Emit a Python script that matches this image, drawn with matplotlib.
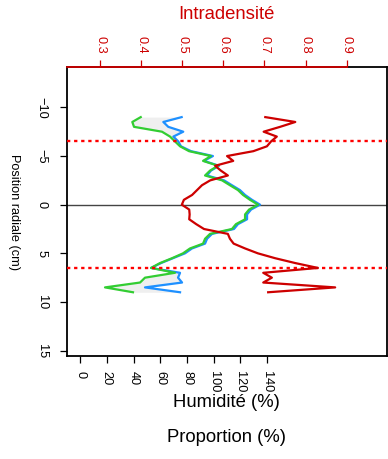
import numpy as np
import matplotlib
matplotlib.use("Agg")
import matplotlib.pyplot as plt

plt.rcParams["font.family"] = ["Liberation Sans", "DejaVu Sans"]

# radial positions (cm), every 0.5 cm from -9 to 9
position = np.arange(-9, 9.01, 0.5)

humidite = [45.4, 39.1, 40.4, 61.3, 67.3, 71.0, 74.8, 81.5, 97.9, 92.0,
            103.2, 97.2, 93.5, 106.2, 112.1, 118.1, 121.9, 127.1, 133.1,
            126.4, 123.4, 123.4, 116.6, 113.6, 97.2, 93.5, 92.0, 82.2,
            77.0, 68.8, 59.8, 53.1, 71.0, 48.6, 44.9, 18.7, 39.6]

proportion = [76.0, 62.3, 66.0, 77.2, 69.8, 73.5, 75.5, 83.0, 99.4, 92.7,
              103.9, 97.9, 95.0, 107.7, 113.6, 119.6, 123.4, 128.6, 134.6,
              127.9, 124.9, 124.9, 118.1, 115.1, 98.7, 95.0, 93.5, 83.7,
              78.5, 69.5, 60.6, 53.1, 74.8, 73.3, 76.3, 48.6, 74.8]

intradensite = [0.702, 0.775, 0.738, 0.698, 0.730, 0.716, 0.706, 0.673,
                0.609, 0.624, 0.580, 0.594, 0.611, 0.568, 0.548, 0.536,
                0.524, 0.504, 0.499, 0.517, 0.518, 0.517, 0.534, 0.553,
                0.611, 0.616, 0.625, 0.653, 0.684, 0.726, 0.775, 0.830,
                0.697, 0.718, 0.697, 0.872, 0.709]

limites = [-6.55, 6.55]

bottom_ticks = np.arange(0, 141, 20)
top_ticks = [0.3, 0.4, 0.5, 0.6, 0.7, 0.8, 0.9]
y_ticks = [-10, -5, 0, 5, 10, 15]

fig = plt.figure(figsize=(3.88, 4.59), dpi=100)
ax = fig.add_axes([0.1727, 0.2244, 0.8239, 0.629])

ax.fill_betweenx(position, humidite, proportion, color="#efefef", lw=0, zorder=1)
ax.plot(proportion, position, color="#1e90ff", lw=1.6, zorder=2)
ax.plot(humidite, position, color="#32cd32", lw=1.6, zorder=3)
ax.axhline(0, color="#444444", lw=1.0, zorder=1.5)
for lim in limites:
    ax.axhline(lim, color="red", lw=1.7, linestyle=(0, (1.4, 1.6)), zorder=4)

ax.set_xlim(-9.72, 229.3)
ax.set_ylim(15.55, -14.12)
ax.set_xticks(bottom_ticks)
ax.set_yticks(y_ticks)
ax.set_yticklabels(["\u221210", "\u22125", "0", "5", "10", "15"])
for lbl in ax.get_xticklabels():
    lbl.set_rotation(-90)
for lbl in ax.get_yticklabels():
    lbl.set_rotation(-90)
    lbl.set_va("center")
ax.tick_params(direction="out", length=5, width=0.9, labelsize=9.2)
ax.tick_params(axis="x", pad=6)
ax.tick_params(axis="y", pad=9)
for s in ax.spines.values():
    s.set_linewidth(1.3)

ax.set_ylabel("Position radiale (cm)", fontsize=9.2, rotation=-90, va="center")
ax.yaxis.set_label_coords(-0.165, 0.5)
ax.set_xlabel("Humidité (%)", fontsize=13.3, labelpad=1)
fig.text(0.585, 1 - 437 / 459, "Proportion (%)", fontsize=13.3,
         ha="center", va="center")

# top axis: intradensity
ax2 = ax.twiny()
ax2.plot(intradensite, position, color="#cd0000", lw=1.6, zorder=5)
ax2.set_xlim(0.2197, 0.9973)
ax2.set_xticks(top_ticks)
for lbl in ax2.get_xticklabels():
    lbl.set_rotation(-90)
ax2.tick_params(axis="x", colors="#cd0000", direction="out", length=5,
                width=0.9, labelsize=9.2, pad=5)
for side in ["left", "right", "bottom"]:
    ax2.spines[side].set_visible(False)
ax2.spines["top"].set_color("#cd0000")
ax2.spines["top"].set_linewidth(1.3)
ax2.spines["top"].set_bounds(0.2197, 0.9)
ax2.set_xlabel("Intradensité", color="#cd0000", fontsize=13.3, labelpad=12)

fig.savefig("out.png", dpi=100)
